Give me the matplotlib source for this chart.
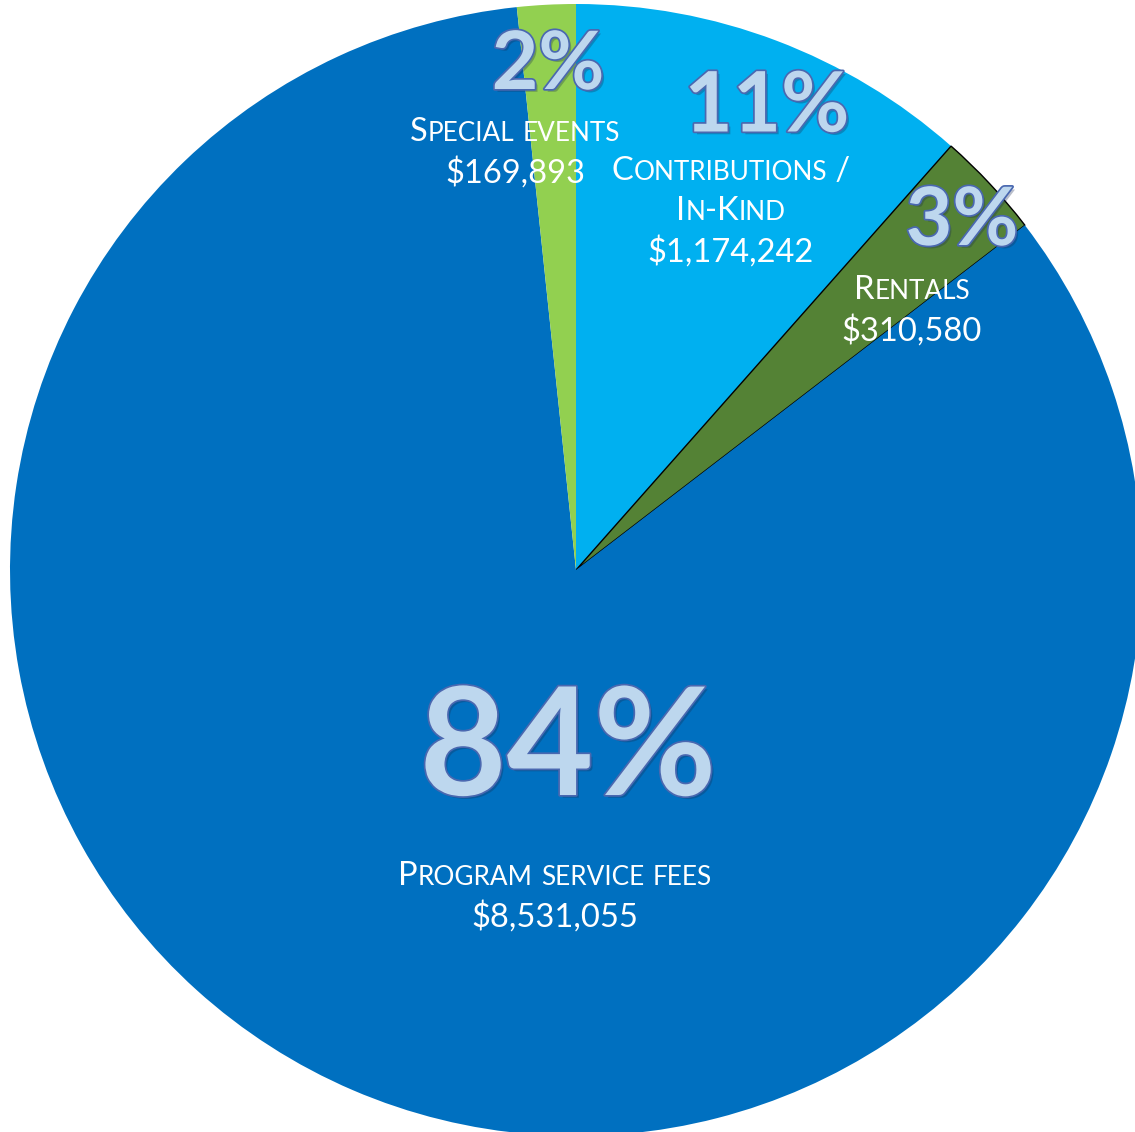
import matplotlib
matplotlib.use("Agg")
import matplotlib.pyplot as plt
import matplotlib.patheffects as pe
from matplotlib.offsetbox import TextArea, HPacker, VPacker, AnnotationBbox

# Revenue sources (clockwise from 12 o'clock)
labels = ["Contributions / In-Kind", "Rentals", "Program service fees", "Special events"]
label_lines = [["Contributions /", "In-Kind"], ["Rentals"], ["Program service fees"], ["Special events"]]
values = [1174242, 310580, 8531055, 169893]
percents = ["11%", "3%", "84%", "2%"]
colors = ["#00B0F0", "#548235", "#0070C0", "#92D050"]

W, H = 1135, 1132
fig = plt.figure(figsize=(W / 100, H / 100), dpi=100)
ax = fig.add_axes([0, 0, 1, 1])

cx, cy, r = 576, H - 570, 566
wedges, _ = ax.pie(values, colors=colors, startangle=90, counterclock=False,
                   center=(cx, cy), radius=r, wedgeprops=dict(linewidth=0))
wedges[1].set_edgecolor("black")
wedges[1].set_linewidth(1.0)

ax.set_xlim(0, W)
ax.set_ylim(0, H)
ax.set_aspect("auto")
ax.axis("off")

FONT = "Lato"


def small_caps(text, size):
    # fake small caps: capitals full size, lowercase letters as smaller capitals
    runs = []
    for ch in text:
        big = not ch.isalpha() or ch.isupper()
        if runs and runs[-1][0] == big:
            runs[-1][1] += ch
        else:
            runs.append([big, ch])
    boxes = []
    for big, s in runs:
        fs = size if big else size * 0.8
        boxes.append(TextArea(s.upper(), textprops=dict(color="white", fontsize=fs,
                                                        family=FONT, fontweight="normal")))
    return HPacker(children=boxes, align="baseline", pad=0, sep=0)


def add_label(lines, amount, x, y, size=23.5):
    rows = [small_caps(l, size) for l in lines]
    rows.append(TextArea(amount, textprops=dict(color="white", fontsize=size,
                                                family=FONT, fontweight="normal")))
    box = VPacker(children=rows, align="center", pad=0, sep=7)
    ab = AnnotationBbox(box, (x, H - y), xycoords="data", frameon=False,
                        box_alignment=(0.5, 0.5), pad=0)
    ax.add_artist(ab)


pct_fx = [pe.SimplePatchShadow(offset=(2, -2), shadow_rgbFace="#1a2a50", alpha=0.3),
          pe.Stroke(linewidth=2.5, foreground="#4A68B0"), pe.Normal()]


def add_pct(txt, x, y, size):
    ax.text(x, H - y, txt, ha="center", va="center", fontsize=size, family=FONT,
            fontweight="bold", color="#BDD7EE", path_effects=pct_fx)


# percentage labels
pct_pos = [(767, 108, 60), (962, 222, 58), (568, 752, 108), (548, 66, 58)]
for p, (x, y, s) in zip(percents, pct_pos):
    add_pct(p, x, y, s)

# category / amount labels
lab_pos = [(731, 212), (912, 311), (555, 897), (515, 153)]
for lines, v, (x, y) in zip(label_lines, values, lab_pos):
    add_label(lines, "${:,}".format(v), x, y)

fig.savefig("out.png", dpi=100)
